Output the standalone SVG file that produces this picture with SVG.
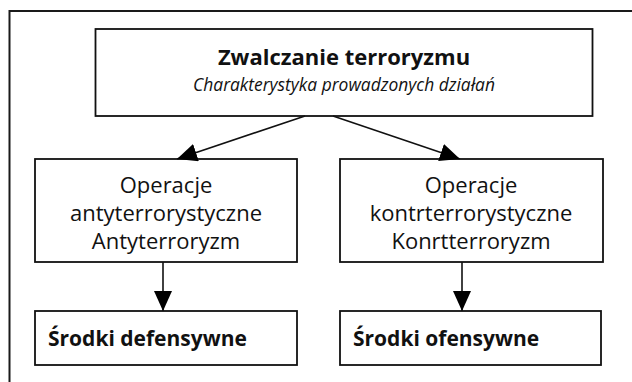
<svg xmlns="http://www.w3.org/2000/svg" width="632" height="382" viewBox="0 0 632 382">
<style>
.box{fill:#fff;stroke:#111;stroke-width:1.8}
.frame{fill:none;stroke:#1a1a1a;stroke-width:2}
.t{font-family:"Open Sans","Noto Sans",sans-serif;fill:#111;text-anchor:middle}
.b{font-weight:bold}
.i{font-style:italic}
.m{font-size:22px}
.s{font-size:21px;text-anchor:start}
.conn{stroke:#111;stroke-width:1.6;fill:none}
</style>
<defs>
<marker id="ah" viewBox="0 0 20 18" refX="20" refY="9" markerWidth="20" markerHeight="18" markerUnits="userSpaceOnUse" orient="auto">
<path d="M0,0 L20,9 L0,18 Z" fill="#000"/>
</marker>
</defs>
<rect class="frame" x="9.5" y="11" width="640" height="390"/>
<g id="top">
<rect class="box" x="95.5" y="29" width="497" height="87"/>
<text class="t b" x="344" y="65" font-size="22">Zwalczanie terroryzmu</text>
<text class="t i" x="344" y="91" font-size="17.4">Charakterystyka prowadzonych działań</text>
</g>
<g id="anti">
<rect class="box" x="35" y="159" width="262" height="103"/>
<text class="t m" x="166" y="193">Operacje</text>
<text class="t m" x="166" y="221">antyterrorystyczne</text>
<text class="t m" x="166" y="249">Antyterroryzm</text>
</g>
<g id="kontr">
<rect class="box" x="340" y="159" width="263" height="103"/>
<text class="t m" x="471" y="193">Operacje</text>
<text class="t m" x="471" y="221">kontrterrorystyczne</text>
<text class="t m" x="471" y="249">Konrtterroryzm</text>
</g>
<g id="def">
<rect class="box" x="35" y="311" width="262" height="54"/>
<text class="t b s" x="48" y="346">Środki defensywne</text>
</g>
<g id="ofe">
<rect class="box" x="340" y="311" width="261" height="54"/>
<text class="t b s" x="353" y="346">Środki ofensywne</text>
</g>
<g id="connectors">
<line class="conn" x1="305" y1="116" x2="177" y2="159" marker-end="url(#ah)"/>
<line class="conn" x1="333" y1="116" x2="460" y2="159" marker-end="url(#ah)"/>
<line class="conn" x1="163" y1="262" x2="163" y2="311" marker-end="url(#ah)"/>
<line class="conn" x1="462" y1="262" x2="462" y2="311" marker-end="url(#ah)"/>
</g>
</svg>
